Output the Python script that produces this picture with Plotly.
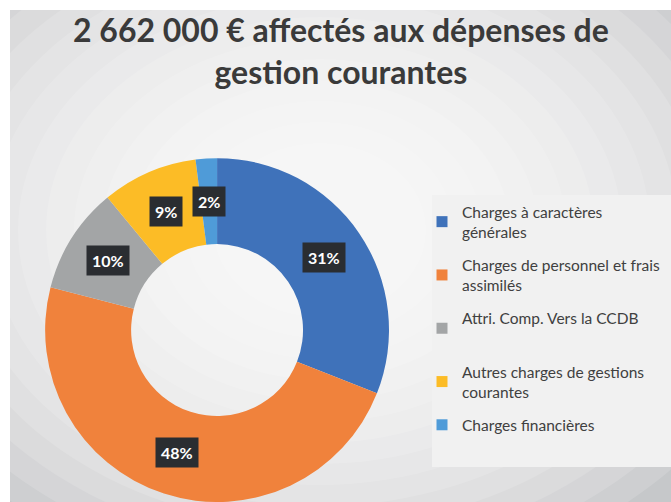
import math
import plotly.graph_objects as go

W, H = 671, 502

categories = [
    "Charges à caractères<br>générales",
    "Charges de personnel et frais<br>assimilés",
    "Attri. Comp. Vers la CCDB<br> ",
    "Autres charges de gestions<br>courantes",
    "Charges financières",
]
values = [31, 48, 10, 9, 2]
pct_labels = ["31%", "48%", "10%", "9%", "2%"]
colors = ["#3f72ba", "#f0823c", "#a3a5a6", "#fcbc26", "#4f9bd8"]

title_text = "2 662 000 € affectés aux dépenses de<br>gestion courantes"

HOLE = 0.5
dom_x = [0.067, 0.58]
dom_y = [0.0, 0.685]

fig = go.Figure()
fig.add_trace(go.Pie(
    labels=categories,
    values=values,
    hole=HOLE,
    sort=False,
    direction="clockwise",
    rotation=0,
    marker=dict(colors=colors, line=dict(width=0)),
    textinfo="none",
    hoverinfo="label+percent",
    domain=dict(x=dom_x, y=dom_y),
    showlegend=False,
))

# Legend entries (one group per category so the spacing can be set)
for i, (cat, col) in enumerate(zip(categories, colors)):
    fig.add_trace(go.Scatter(
        x=[None], y=[None], mode="markers", name=cat,
        marker=dict(symbol="square", size=11, color=col),
        legendgroup=f"g{i}", showlegend=True, hoverinfo="skip",
    ))

px = lambda v: v / W
py = lambda v: 1 - v / H

# Background panel with radial-ish gradient (decorative)
shapes = []
shapes.append(dict(type="rect", xref="paper", yref="paper", x0=px(10), x1=1, y0=0, y1=py(10),
                   fillcolor="#c6c8ca", line=dict(width=0), layer="below"))
gcx, gcy = 320, 230
for i in range(14):
    rx = 470 - i * 28
    ry = 360 - i * 21
    shapes.append(dict(type="circle", xref="paper", yref="paper",
                       x0=px(gcx - rx), x1=px(gcx + rx), y0=py(gcy + ry), y1=py(gcy - ry),
                       fillcolor="rgba(255,255,255,0.14)", line=dict(width=0), layer="below"))
# legend panel
shapes.append(dict(type="rect", xref="paper", yref="paper", x0=px(432), x1=1, y0=py(467), y1=py(195),
                   fillcolor="#f1f1f1", line=dict(width=0), layer="below"))

# Data labels placed at slice mid-angle, mid-ring radius
cx_px = (dom_x[0] + dom_x[1]) / 2 * W
cy_px = H - (dom_y[0] + dom_y[1]) / 2 * H
R = min((dom_x[1] - dom_x[0]) * W, (dom_y[1] - dom_y[0]) * H) / 2
r_mid = R * (1 + HOLE) / 2
total = sum(values)
annotations = []
cum = 0
for v, lab in zip(values, pct_labels):
    mid = (cum + v / 2) / total * 2 * math.pi
    cum += v
    x = cx_px + r_mid * math.sin(mid)
    y = cy_px - r_mid * math.cos(mid)
    annotations.append(dict(x=px(x), y=py(y), xref="paper", yref="paper", text="<b>" + lab + "</b>",
                            xanchor="center", yanchor="middle",
                            showarrow=False, font=dict(family="Lato", size=16, color="white"),
                            bgcolor="#2a2d31", borderpad=5))

annotations.append(dict(x=340.5 / W, y=py(8), xref="paper", yref="paper",
                        xanchor="center", yanchor="top", showarrow=False,
                        text="<b>" + title_text + "</b>",
                        font=dict(family="Lato", size=32, color="#3a3a3a")))

fig.update_layout(
    width=W, height=H,
    margin=dict(l=0, r=0, t=0, b=0, pad=0, autoexpand=False),
    paper_bgcolor="white",
    plot_bgcolor="rgba(0,0,0,0)",
    xaxis=dict(visible=False),
    yaxis=dict(visible=False),
    legend=dict(x=px(422), y=py(195), xanchor="left", yanchor="top",
                bgcolor="rgba(0,0,0,0)", borderwidth=0,
                font=dict(family="Lato", size=15.5, color="#404040"),
                tracegroupgap=10, itemwidth=30),
    shapes=shapes,
    annotations=annotations,
)

fig.write_html("out.html")
